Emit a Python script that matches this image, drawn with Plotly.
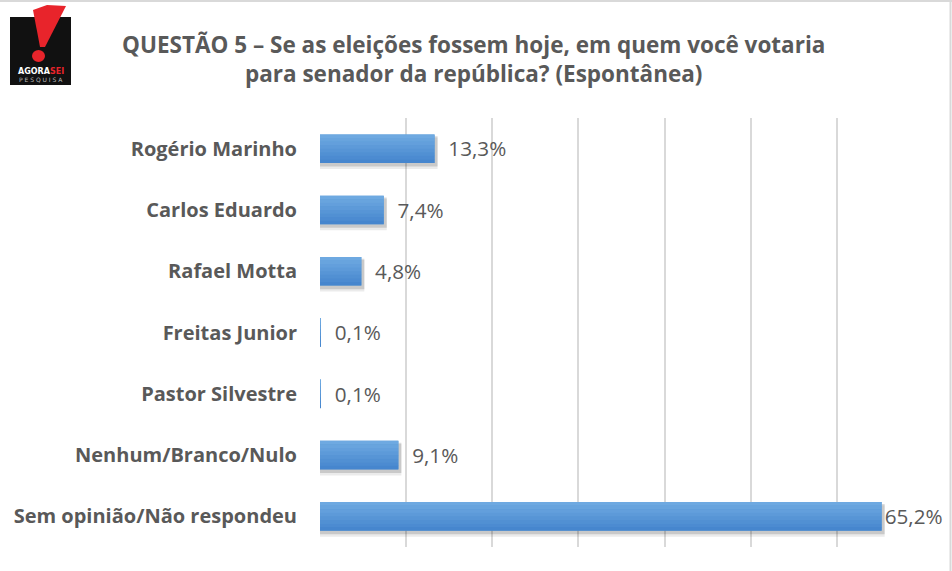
import plotly.graph_objects as go

categories = ["Rogério Marinho", "Carlos Eduardo", "Rafael Motta", "Freitas Junior",
              "Pastor Silvestre", "Nenhum/Branco/Nulo", "Sem opinião/Não respondeu"]
values = [13.3, 7.4, 4.8, 0.1, 0.1, 9.1, 65.2]
labels = ["13,3%", "7,4%", "4,8%", "0,1%", "0,1%", "9,1%", "65,2%"]
tick_vals = [0, 10, 20, 30, 40, 50, 60, 70]

W, H = 952, 571
L, R, T, B = 320, 923, 118, 547  # plot area pixel bounds


def px(x):
    return (x - L) / (R - L)


def py(y):
    return (B - y) / (B - T)


GRAY = "#595959"
FONT = "Open Sans"
BW = 0.465  # bar thickness in category units

# gap between bar end and label (the longest bar keeps its label tight)
texts = [("\u00a0\u00a0" + t) if v < 50 else t for t, v in zip(labels, values)]

fig = go.Figure()
# soft shadow
for k, (alpha, grow) in enumerate([(0.08, 0.10), (0.14, 0.06)]):
    fig.add_trace(go.Bar(
        x=[v + 0.35 if v > 0.5 else 0 for v in values], y=categories, orientation="h",
        width=BW + grow * 0.5, offset=-BW / 2 + grow * 0.5,
        marker=dict(color=f"rgba(0,0,0,{alpha})", line=dict(width=0)),
        hoverinfo="skip", showlegend=False,
    ))
# base bar with labels
fig.add_trace(go.Bar(
    x=values, y=categories, orientation="h", width=BW,
    marker=dict(color="#5B9BD5", line=dict(width=0)),
    text=texts, textposition="outside",
    textfont=dict(family=FONT, size=22.5, color=GRAY),
    cliponaxis=False, hoverinfo="skip",
))
# vertical gradient strips
top = (0x6E, 0xA9, 0xE1)
bot = (0x46, 0x86, 0xCE)
N = 8
for i in range(N):
    f = i / (N - 1)
    c = tuple(round(top[j] + (bot[j] - top[j]) * f) for j in range(3))
    fig.add_trace(go.Bar(
        x=values, y=categories, orientation="h",
        width=BW / N + 0.002, offset=-BW / 2 + i * BW / N,
        marker=dict(color="rgb(%d,%d,%d)" % c, line=dict(width=0)),
        hoverinfo="skip", showlegend=False,
    ))

shapes = []
# frame lines (top and right)
shapes.append(dict(type="line", xref="paper", yref="paper", x0=px(0), x1=px(W), y0=py(1), y1=py(1),
                   line=dict(color="#d9d9d9", width=2)))
shapes.append(dict(type="line", xref="paper", yref="paper", x0=px(950.5), x1=px(950.5), y0=py(0), y1=py(H),
                   line=dict(color="#d9d9d9", width=2)))
# logo black square
shapes.append(dict(type="rect", xref="paper", yref="paper", x0=px(10), x1=px(71), y0=py(85), y1=py(17),
                   fillcolor="#111111", line=dict(width=0)))
# exclamation body
pts = [(33, 10), (47, 5), (66, 6), (45, 47), (40, 47)]
path = "M " + " L ".join(f"{px(a):.5f},{py(b):.5f}" for a, b in pts) + " Z"
shapes.append(dict(type="path", xref="paper", yref="paper", path=path, fillcolor="#e8242b", line=dict(width=0)))
# exclamation dot
shapes.append(dict(type="circle", xref="paper", yref="paper", x0=px(32), x1=px(45), y0=py(62), y1=py(50),
                   fillcolor="#e8242b", line=dict(width=0)))

annotations = [
    dict(xref="paper", yref="paper", x=px(473), y=py(59), xanchor="center", yanchor="middle",
         text="<b>QUESTÃO 5 – Se as eleições fossem hoje, em quem você votaria<br>para senador da república? (Espontânea)</b>",
         showarrow=False, align="center", font=dict(family=FONT, size=22.5, color=GRAY)),
    dict(xref="paper", yref="paper", x=px(40.5), y=py(71), xanchor="center", yanchor="middle",
         text="<b><span style='color:#ffffff'>AGORA</span><span style='color:#e8242b'>SEI</span></b>",
         showarrow=False, font=dict(family="DejaVu Sans", size=8)),
    dict(xref="paper", yref="paper", x=px(40.5), y=py(80), xanchor="center", yanchor="middle",
         text="P E S Q U I S A", showarrow=False, font=dict(family="DejaVu Sans", size=6, color="#bbbbbb")),
]

fig.update_layout(
    width=W, height=H,
    margin=dict(l=L, r=W - R, t=T, b=H - B, pad=0),
    paper_bgcolor="white", plot_bgcolor="white",
    showlegend=False,
    barmode="overlay",
    shapes=shapes, annotations=annotations,
    xaxis=dict(range=[0, 70], tickvals=tick_vals, showticklabels=False, showgrid=True,
               gridcolor="#d9d9d9", gridwidth=1.5, zeroline=False, showline=False, fixedrange=True),
    yaxis=dict(autorange="reversed", showgrid=False, zeroline=False, showline=False,
               ticks="", ticklabelstandoff=22, fixedrange=True,
               tickfont=dict(family=FONT, size=20, color=GRAY, weight="bold")),
)

fig.write_html("out.html", config={"displayModeBar": False},
               post_script="document.body.style.margin='0';document.body.style.overflow='hidden';")
